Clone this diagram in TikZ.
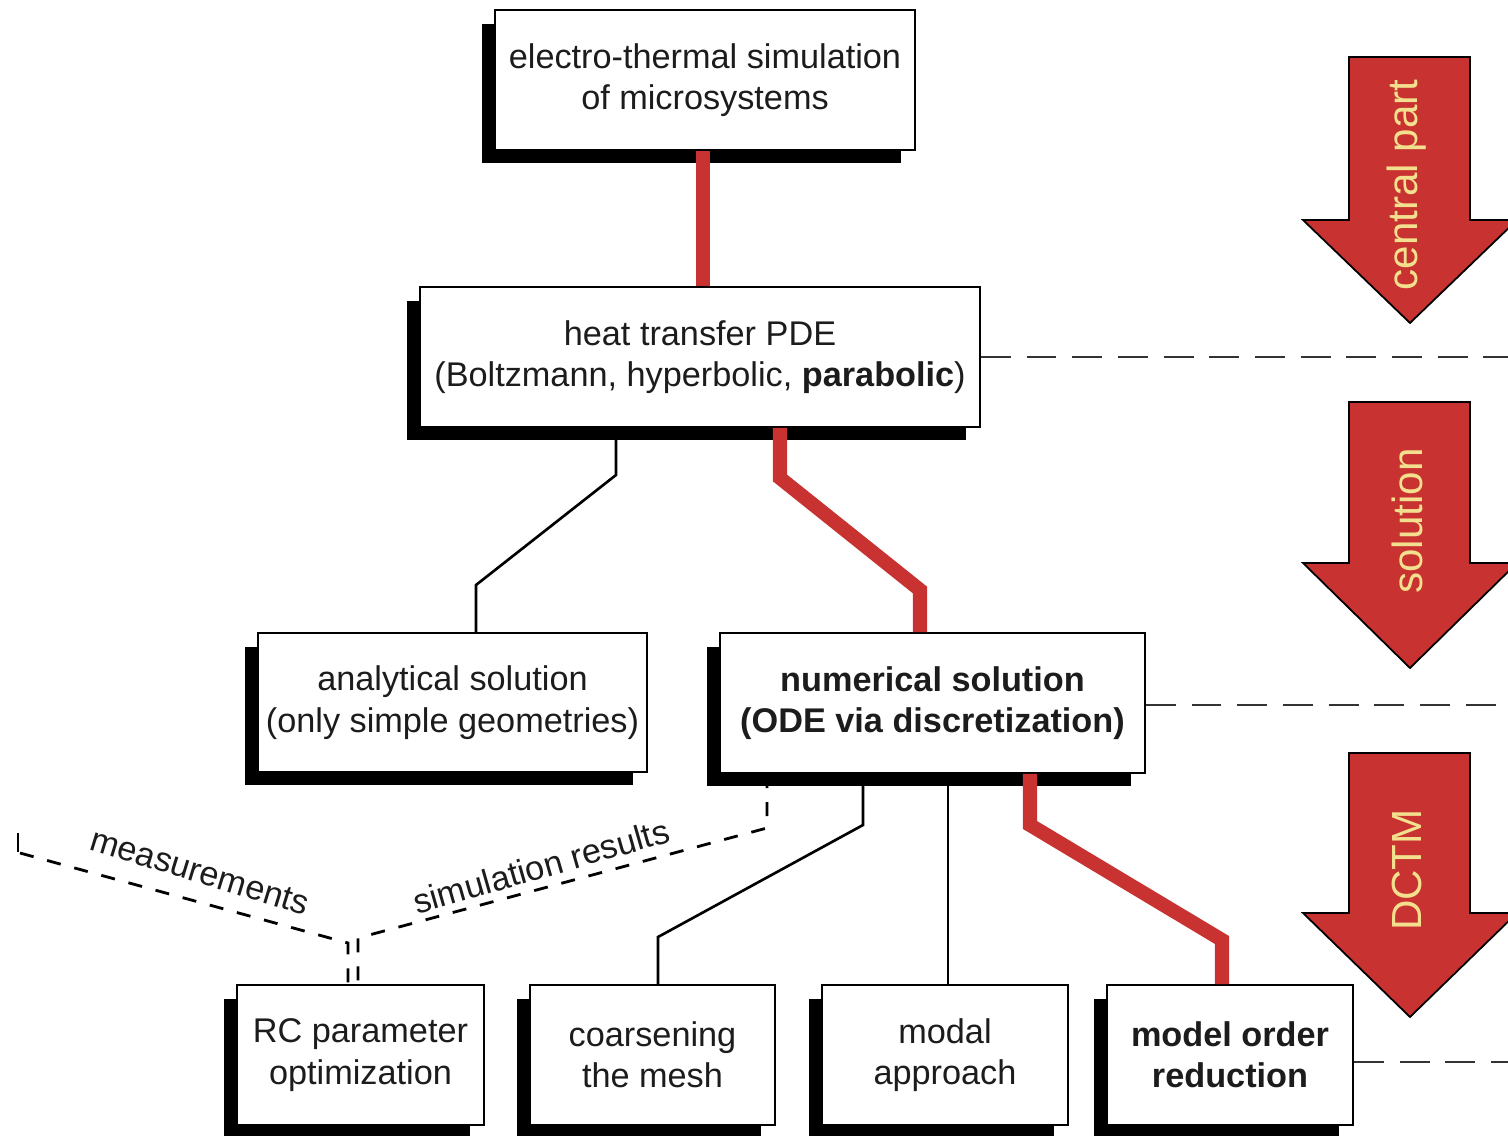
\documentclass[tikz,border=0pt]{standalone}
\usepackage{fontspec}
\setmainfont{Liberation Sans}
\usetikzlibrary{shadows}
\definecolor{redc}{HTML}{C83230}
\definecolor{arrtxt}{HTML}{F3E08E}
\definecolor{txt}{HTML}{1C1C1C}
\tikzset{
  box/.style={draw=black, fill=white, line width=1.1pt, inner sep=0pt, align=center,
    text=txt, font=\fontsize{19.5}{23.5}\selectfont,
    drop shadow={shadow xshift=-0.27cm, shadow yshift=-0.27cm, opacity=1, fill=black}},
  redline/.style={draw=redc, line width=8pt},
  blackline/.style={draw=black, line width=1.5pt},
  dashline/.style={draw=black, line width=1.6pt, dash pattern=on 8pt off 8pt},
  sepline/.style={draw=black!80, line width=1.3pt, dash pattern=on 17pt off 9pt},
  bigarrow/.style={fill=redc, draw=black, line width=1pt, line join=miter},
  arrlabel/.style={text=arrtxt, rotate=90, font=\fontsize{24}{28}\selectfont},
  flowlabel/.style={text=txt, font=\fontsize{19.5}{23}\selectfont, inner sep=0pt}
}
\begin{document}
\begin{tikzpicture}[x=0.02cm,y=-0.02cm]
\useasboundingbox[fill=white] (0,0) rectangle (1508,1136);

% boxes
\node[box, minimum width=8.4cm, minimum height=2.8cm] (top) at (705,80)
  {electro-thermal simulation\\of microsystems};
\node[box, minimum width=11.2cm, minimum height=2.8cm] (pde) at (700,357)
  {heat transfer PDE\\(Boltzmann, hyperbolic, \textbf{parabolic})};
\node[box, minimum width=7.78cm, minimum height=2.78cm] (ana) at (452.5,702.5)
  {analytical solution\\(only simple geometries)};
\node[box, minimum width=8.5cm, minimum height=2.8cm] (num) at (932.5,703)
  {\textbf{numerical solution}\\\textbf{(ODE via discretization)}};
\node[box, minimum width=4.94cm, minimum height=2.8cm] (rc) at (360.5,1055)
  {RC parameter\\optimization};
\node[box, minimum width=4.9cm, minimum height=2.8cm] (coarse) at (652.5,1055)
  {coarsening\\the mesh};
\node[box, minimum width=4.92cm, minimum height=2.8cm] (modal) at (945,1055)
  {modal\\approach};
\node[box, minimum width=4.92cm, minimum height=2.8cm] (mor) at (1230,1055)
  {\textbf{model order}\\\textbf{reduction}};

% helper coordinates
\coordinate (r0) at (703,0);
\coordinate (r1) at (780,478);
\coordinate (r2) at (920,590);
\coordinate (r3) at (1030,825);
\coordinate (r4) at (1222,940);
\coordinate (k1) at (616,475);
\coordinate (k2) at (476,585);
\coordinate (k3) at (863,825);
\coordinate (k4) at (658,937);
\coordinate (k5) at (948,0);
\coordinate (d1) at (767,828);
\coordinate (d2) at (358,938);
\coordinate (m0) at (20,853);
\coordinate (m1) at (348,943);
\coordinate (t0) at (18,833);
\coordinate (t1) at (18,852);
\coordinate (h1) at (1508,357);
\coordinate (h2) at (1508,705);
\coordinate (h3) at (1508,1062);

% red path
\draw[redline] (top.south -| r0) -- (pde.north -| r0);
\draw[redline] (pde.south -| r1) -- (r1) -- (r2) -- (num.north -| r2);
\draw[redline] (num.south -| r3) -- (r3) -- (r4) -- (mor.north -| r4);

% black connectors
\draw[blackline] (pde.south -| k1) -- (k1) -- (k2) -- (ana.north -| k2);
\draw[blackline] (num.south -| k3) -- (k3) -- (k4) -- (coarse.north -| k4);
\draw[blackline] (num.south -| k5) -- (modal.north -| k5);

% dashed data flows
\draw[dashline] (num.south -| d1) -- (d1) -- (d2) -- (rc.north -| d2);
\draw[dashline] (m0) -- (m1) -- (rc.north -| m1);
\draw[blackline] (t0) -- (t1);
\node[flowlabel, rotate=-17] (meas) at (200,872) {measurements};
\node[flowlabel, rotate=16] (simres) at (541,866) {simulation results};

% separators
\draw[sepline] (pde.east) -- (h1);
\draw[sepline] (num.east |- h2) -- (h2);
\draw[sepline] (mor.east |- h3) -- (h3);

% big arrows
\draw[bigarrow] (1349,57) -- (1470,57) -- (1470,220) -- (1517,220) -- (1410,323)
  -- (1303,220) -- (1349,220) -- cycle;
\node[arrlabel] (a1) at (1407,185) {central part};
\draw[bigarrow] (1349,402) -- (1470,402) -- (1470,563) -- (1517,563) -- (1410,668)
  -- (1303,563) -- (1349,563) -- cycle;
\node[arrlabel] (a2) at (1407,521) {solution};
\draw[bigarrow] (1349,753) -- (1470,753) -- (1470,913) -- (1517,913) -- (1410,1017)
  -- (1303,913) -- (1349,913) -- cycle;
\node[arrlabel] (a3) at (1407,870) {DCTM};
\end{tikzpicture}
\end{document}
